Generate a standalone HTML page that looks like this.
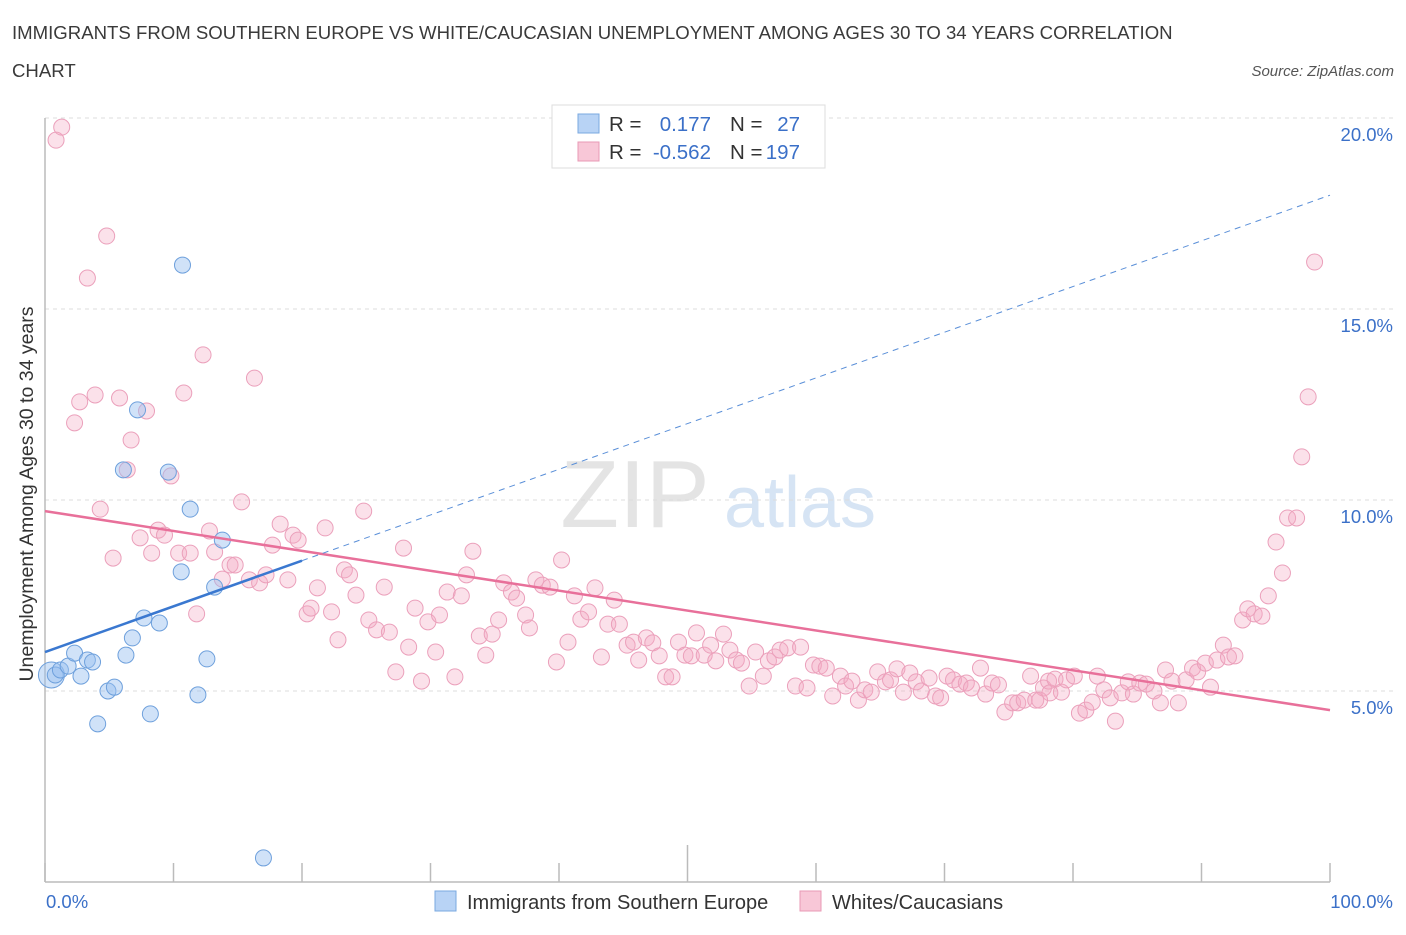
<!DOCTYPE html>
<html><head><meta charset="utf-8"><style>
body{margin:0;background:#fff;font-family:"Liberation Sans",sans-serif;}
svg text{font-family:"Liberation Sans",sans-serif;}
</style></head><body>
<svg width="1406" height="930" viewBox="0 0 1406 930" xmlns="http://www.w3.org/2000/svg">
<text x="12" y="39" font-size="18.6" fill="#3a3a3a">IMMIGRANTS FROM SOUTHERN EUROPE VS WHITE/CAUCASIAN UNEMPLOYMENT AMONG AGES 30 TO 34 YEARS CORRELATION</text>
<text x="12" y="77" font-size="18.6" fill="#3a3a3a">CHART</text>
<text x="1394" y="76" font-size="15" fill="#555" font-style="italic" text-anchor="end">Source: ZipAtlas.com</text>
<g>
<text x="635" y="527" font-size="96" fill="#e4e4e4" font-family="Liberation Serif,serif" text-anchor="middle">ZIP</text>
<text x="800" y="527" font-size="72" fill="#d6e4f4" text-anchor="middle">atlas</text>
</g>
<g id="grid"></g>
<g id="axes"></g>
<g id="marks"></g>
<text transform="translate(33,494) rotate(-90)" font-size="19.5" fill="#333" text-anchor="middle">Unemployment Among Ages 30 to 34 years</text>
<text x="46" y="908" font-size="18.5" fill="#3b70c8">0.0%</text>
<text x="1393" y="908" font-size="18.5" fill="#3b70c8" text-anchor="end">100.0%</text>
<g>
<rect x="552" y="105" width="273" height="63" fill="#fff" stroke="#ddd"/>
<rect x="578" y="114" width="21" height="19" fill="#b8d3f5" stroke="#7aa8e0"/>
<rect x="578" y="142" width="21" height="19" fill="#f8c7d7" stroke="#e89ab5"/>
<text x="609" y="131" font-size="20.5" fill="#333">R = </text><text x="711" y="131" font-size="20.5" fill="#3b70c8" text-anchor="end">0.177</text>
<text x="730" y="131" font-size="20.5" fill="#333">N = </text><text x="800" y="131" font-size="20.5" fill="#3b70c8" text-anchor="end">27</text>
<text x="609" y="159" font-size="20.5" fill="#333">R = </text><text x="711" y="159" font-size="20.5" fill="#3b70c8" text-anchor="end">-0.562</text>
<text x="730" y="159" font-size="20.5" fill="#333">N = </text><text x="800" y="159" font-size="20.5" fill="#3b70c8" text-anchor="end">197</text>
</g>
<g>
<rect x="435" y="891" width="21" height="20" fill="#b8d3f5" stroke="#7aa8e0"/>
<text x="467" y="909" font-size="20" fill="#333">Immigrants from Southern Europe</text>
<rect x="800" y="891" width="21" height="20" fill="#f8c7d7" stroke="#e89ab5"/>
<text x="832" y="909" font-size="20" fill="#333">Whites/Caucasians</text>
</g>
</svg>
<script>
const yTicks=[5,10,15,20];
const yTickLabels=["5.0%","10.0%","15.0%","20.0%"];
const xTicks=[0,10,20,30,40,50,60,70,80,90,100];
const blueX=[0.5,0.8,1.2,1.8,2.3,2.8,3.3,3.7,4.1,4.9,5.4,6.1,6.3,6.8,7.2,7.7,8.2,8.9,9.6,10.6,10.7,11.3,11.9,12.6,13.2,13.8,17.0];
const blueY=[5.42,5.42,5.55,5.65,5.99,5.39,5.81,5.76,4.14,5.0,5.1,10.79,5.94,6.39,12.36,6.91,4.4,6.78,10.73,8.12,16.15,9.76,4.9,5.84,7.72,8.95,0.63];
const pinkX=[0.86,1.3,3.3,4.8,2.3,2.7,3.9,5.8,7.9,6.7,6.4,9.8,10.8,12.3,16.3,4.3,5.3,7.4,8.3,8.8,9.3,10.4,11.3,11.8,12.8,13.2,13.8,14.4,14.8,15.3,15.9,16.7,17.2,17.7,18.3,18.9,19.3,19.7,20.4,20.7,21.2,21.8,22.3,22.8,23.3,23.7,24.2,24.8,25.2,25.8,26.4,26.8,27.3,27.9,28.3,28.8,29.3,29.8,30.4,30.7,31.3,31.9,32.4,32.8,33.3,33.8,34.3,34.8,35.3,35.7,36.3,36.7,37.4,37.7,38.2,38.7,39.3,39.8,40.2,40.7,41.2,41.7,42.3,42.8,43.3,43.8,44.3,44.7,45.3,45.8,46.2,46.8,47.3,47.8,48.3,48.8,49.3,49.8,50.3,50.7,51.3,51.8,52.2,52.8,53.3,53.8,54.2,54.8,55.3,55.9,56.3,56.8,57.2,57.8,58.4,58.8,59.3,59.8,60.3,60.8,61.3,61.9,62.3,62.8,63.3,63.8,64.3,64.8,65.4,65.8,66.3,66.8,67.3,67.8,68.2,68.8,69.3,69.7,70.2,70.7,71.2,71.7,72.1,72.8,73.2,73.7,74.2,74.7,75.3,75.7,76.2,76.7,77.1,77.7,78.1,78.6,79.1,79.5,80.1,80.5,81.0,81.5,81.9,82.4,82.9,83.3,83.8,84.3,84.7,85.2,85.7,86.3,86.8,87.2,87.7,88.2,88.8,89.3,89.7,90.3,90.7,91.2,91.7,92.1,92.6,93.2,93.6,94.1,94.7,95.2,95.8,96.3,96.7,97.4,97.8,98.3,98.8,77.4,78.2];
const pinkY=[19.42,19.76,15.81,16.91,12.02,12.57,12.75,12.67,12.33,11.57,10.79,10.63,12.8,13.8,13.19,9.76,8.48,9.01,8.61,9.21,9.08,8.61,8.61,7.02,9.19,8.64,7.93,8.3,8.3,9.95,7.91,7.83,8.04,8.82,9.37,7.91,9.08,8.95,7.02,7.17,7.7,9.27,7.07,6.34,8.17,8.04,7.51,9.71,6.86,6.6,7.72,6.54,5.5,8.74,6.15,7.17,5.26,6.81,6.02,6.99,7.59,5.37,7.49,8.04,8.66,6.44,5.94,6.49,6.86,7.83,7.59,7.43,6.99,6.65,7.91,7.77,7.72,5.76,8.43,6.28,7.49,6.88,7.07,7.7,5.89,6.75,7.38,6.75,6.2,6.28,5.81,6.39,6.26,5.92,5.37,5.37,6.28,5.94,5.92,6.52,5.94,6.2,5.79,6.49,6.07,5.81,5.73,5.13,6.02,5.39,5.79,5.89,6.07,6.13,5.13,6.15,5.08,5.68,5.65,5.6,4.87,5.39,5.13,5.26,4.76,5.03,4.97,5.5,5.24,5.29,5.58,4.97,5.47,5.24,5.0,5.34,4.87,4.82,5.39,5.29,5.18,5.21,5.08,5.6,4.92,5.21,5.16,4.45,4.69,4.69,4.76,5.39,4.76,5.08,5.26,5.31,4.97,5.29,5.39,4.42,4.5,4.71,5.39,5.03,4.82,4.21,4.95,5.24,4.92,5.21,5.18,5.0,4.69,5.55,5.26,4.69,5.29,5.6,5.5,5.73,5.1,5.81,6.2,5.89,5.92,6.86,7.15,7.02,6.96,7.49,8.9,8.09,9.53,9.53,11.13,12.7,16.23,4.76,4.95];
const blueTrend=[6.02,17.98];
const pinkTrend=[9.71,4.5];
const blueSolidEnd=20;

const NS="http://www.w3.org/2000/svg";
const X0=45,X1=1330,Y0=882,PX=38.2;
const sx=v=>X0+(X1-X0)*v/100;
const sy=v=>Y0-v*PX;
function mk(tag,attrs,parent){const e=document.createElementNS(NS,tag);for(const k in attrs)e.setAttribute(k,attrs[k]);parent.appendChild(e);return e;}
const grid=document.getElementById('grid'),axes=document.getElementById('axes'),marks=document.getElementById('marks');
yTicks.forEach((t,i)=>{
 const l=mk('line',{x1:X0,x2:1395,y1:sy(t),y2:sy(t),stroke:'#dcdcdc','stroke-dasharray':'4,4'},grid);
 
 
 const tx=mk('text',{x:1393,y:sy(t)+23,'font-size':18.5,fill:'#3b70c8','text-anchor':'end'},grid);
 tx.textContent=yTickLabels[i];
 
 
});
const ax=mk('line',{x1:X0,x2:X1,y1:Y0,y2:Y0,stroke:'#bbb','stroke-width':1.5},axes);


const ay=mk('line',{x1:X0,x2:X0,y1:118,y2:Y0,stroke:'#bbb','stroke-width':1.5},axes);


xTicks.forEach(t=>{
 const l=mk('line',{x1:sx(t),x2:sx(t),y1:t===50?845:863,y2:Y0,stroke:'#bbb','stroke-width':1.5},axes);
 
 
});
pinkX.forEach((x,i)=>{
 const c=mk('circle',{cx:sx(x),cy:sy(pinkY[i]),r:8,fill:'rgba(244,170,196,0.35)',stroke:'#eba0bb','stroke-width':1},marks);
 
 
});
blueX.forEach((x,i)=>{
 const c=mk('circle',{cx:sx(x),cy:sy(blueY[i]),r:i===0?13:8,fill:'rgba(150,190,240,0.45)',stroke:'#6ea0dc','stroke-width':1},marks);
 
 
});
const bAt=v=>blueTrend[0]+(blueTrend[1]-blueTrend[0])*v/100;
const pl=mk('line',{x1:sx(0),y1:sy(pinkTrend[0]),x2:sx(100),y2:sy(pinkTrend[1]),stroke:'#e8709a','stroke-width':2.5},marks);


const bl=mk('line',{x1:sx(0),y1:sy(bAt(0)),x2:sx(blueSolidEnd),y2:sy(bAt(blueSolidEnd)),stroke:'#3a78d0','stroke-width':2.5},marks);


const bd=mk('line',{x1:sx(blueSolidEnd),y1:sy(bAt(blueSolidEnd)),x2:sx(100),y2:sy(bAt(100)),stroke:'#5a8fd8','stroke-width':1,'stroke-dasharray':'6,5'},marks);


</script>
</body></html>
